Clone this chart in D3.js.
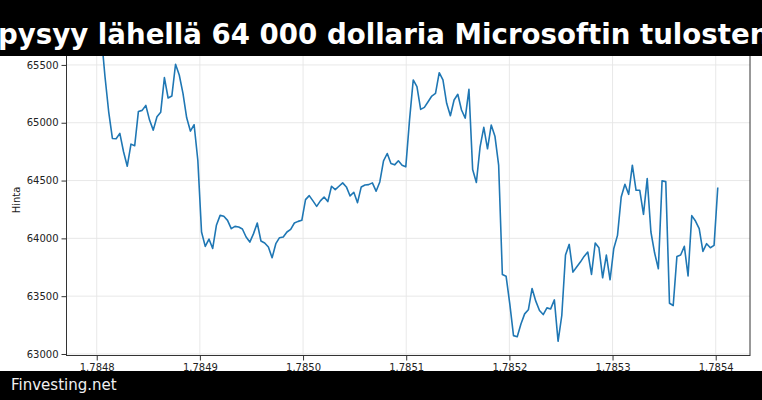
<!DOCTYPE html>
<html>
<head>
<meta charset="utf-8">
<script src="https://cdn.jsdelivr.net/npm/d3@7/dist/d3.min.js"></script>
<style>
  html, body { margin: 0; padding: 0; background: #fff; }
  svg { display: block; }
  text { font-family: "DejaVu Sans", sans-serif; }
</style>
</head>
<body>
<svg id="chart" width="762" height="400"></svg>
<script>
// ---- data (hourly timestamps, seconds) ----
const startTime = 1784800800;
const stepSeconds = 3600;
const prices = [
  65700, 65760, 65400, 65095, 64864, 64861, 64908, 64749, 64624, 64815,
  64801, 65098, 65107, 65150, 65023, 64936, 65052, 65090, 65390, 65214,
  65231, 65506, 65413, 65254, 65043, 64928, 64983, 64676, 64055, 63931,
  63994, 63913, 64113, 64199, 64191, 64156, 64084, 64104, 64098, 64081,
  64012, 63968, 64041, 64133, 63977, 63960, 63925, 63832, 63954, 64006,
  64012, 64055, 64078, 64133, 64147, 64156, 64335, 64370, 64324, 64277,
  64324, 64358, 64318, 64451, 64422, 64451, 64480, 64445, 64367, 64399,
  64309, 64445, 64462, 64465, 64480, 64408, 64488, 64671, 64734, 64647,
  64636, 64671, 64633, 64619, 65023, 65370, 65312, 65116, 65133, 65182,
  65231, 65254, 65433, 65370, 65168, 65061, 65197, 65246, 65110, 65040,
  65289, 64595, 64483, 64792, 64960, 64775, 64980, 64884, 64633, 63688,
  63673, 63434, 63159, 63150, 63260, 63347, 63382, 63567, 63457, 63376,
  63341, 63399, 63390, 63468, 63110, 63333, 63856, 63948, 63708, 63752,
  63795, 63844, 63882, 63688, 63960, 63919, 63659, 63856, 63642, 63913,
  64026, 64358, 64468, 64381, 64633, 64416, 64416, 64208, 64517, 64055,
  63873, 63737, 64497, 64491, 63439, 63419, 63844, 63856, 63931, 63676,
  64197, 64150, 64084, 63887, 63954, 63919, 63939, 64440
];
const xTicks = [1784800000, 1784900000, 1785000000, 1785100000, 1785200000, 1785300000, 1785400000];
const yTicks = [63000, 63500, 64000, 64500, 65000, 65500];
const titleText = "Bitcoin pysyy lähellä 64 000 dollaria Microsoftin tulosten jälkeen";
const titleHidden = "Bitcoin ";
const titleVisibleSpan = "pysyy lähellä 64 000 dollaria Microsoftin tuloste";
const yLabel = "Hinta";
const footerText = "Finvesting.net";

const data = prices.map((p, i) => ({ t: startTime + i * stepSeconds, v: p }));

// ---- layout ----
const W = 762, H = 400;
const plot = { left: 66.5, right: 750, top: 21, bottom: 355.5 };

const svg = d3.select("#chart");

const x = d3.scaleLinear()
  .domain([1784770700, 1785433240])
  .range([plot.left, plot.right]);
const y = d3.scaleLinear()
  .domain([62987, 65880])
  .range([plot.bottom, plot.top]);

svg.append("defs").append("clipPath").attr("id", "clip")
  .append("rect")
  .attr("x", plot.left).attr("y", plot.top)
  .attr("width", plot.right - plot.left).attr("height", plot.bottom - plot.top);

// grid
const grid = svg.append("g").attr("class", "grid");
grid.selectAll("line.h").data(yTicks).join("line")
  .attr("x1", plot.left).attr("x2", plot.right)
  .attr("y1", d => y(d)).attr("y2", d => y(d))
  .attr("stroke", "#e5e5e5").attr("stroke-width", 0.9);
grid.selectAll("line.v").data(xTicks).join("line")
  .attr("y1", plot.top).attr("y2", plot.bottom)
  .attr("x1", d => x(d)).attr("x2", d => x(d))
  .attr("stroke", "#e5e5e5").attr("stroke-width", 0.9);

// line
const line = d3.line().x(d => x(d.t)).y(d => y(d.v));
svg.append("path")
  .datum(data)
  .attr("clip-path", "url(#clip)")
  .attr("fill", "none")
  .attr("stroke", "#1f77b4")
  .attr("stroke-width", 1.6)
  .attr("stroke-linejoin", "round")
  .attr("d", line);

// spines
svg.append("rect")
  .attr("x", plot.left).attr("y", plot.top)
  .attr("width", plot.right - plot.left).attr("height", plot.bottom - plot.top)
  .attr("fill", "none").attr("stroke", "#333").attr("stroke-width", 1);

// axes
const yAxis = d3.axisLeft(y).tickValues(yTicks).tickSize(5).tickPadding(3)
  .tickFormat(d3.format("d"));
const gy = svg.append("g").attr("transform", `translate(${plot.left},0)`).call(yAxis);
gy.select(".domain").remove();
gy.selectAll("line").attr("stroke", "#333");
gy.selectAll("text").attr("font-family", "DejaVu Sans").attr("font-size", 10).attr("fill", "#222");

const xAxis = d3.axisBottom(x).tickValues(xTicks).tickSize(5).tickPadding(3)
  .tickFormat(d => d3.format(".4f")(d / 1e9));
const gx = svg.append("g").attr("transform", `translate(0,${plot.bottom})`).call(xAxis);
gx.select(".domain").remove();
gx.selectAll("line").attr("stroke", "#333");
gx.selectAll("text").attr("font-family", "DejaVu Sans").attr("font-size", 10).attr("fill", "#222");

// y label
svg.append("text")
  .attr("transform", `translate(20,200) rotate(-90)`)
  .attr("text-anchor", "middle")
  .attr("font-size", 10).attr("fill", "#222")
  .text(yLabel);

// title band
svg.append("rect").attr("x", 0).attr("y", 0).attr("width", W).attr("height", 56).attr("fill", "#000");
function measure(str, fs) {
  const t = svg.append("text").attr("font-size", fs).attr("font-weight", "bold")
    .style("white-space", "pre").text(str);
  const w = t.node().getComputedTextLength();
  t.remove();
  return w;
}
// size the title so the visible span matches the reference
const titleFs = 100 * 752 / measure(titleVisibleSpan, 100);
const hiddenW = measure(titleHidden, titleFs);
svg.append("text")
  .attr("x", -2 - hiddenW).attr("y", 44)
  .attr("font-size", titleFs).attr("font-weight", "bold")
  .attr("fill", "#fff")
  .text(titleText);

// footer band
svg.append("rect").attr("x", 0).attr("y", 371).attr("width", W).attr("height", H - 371).attr("fill", "#000");
svg.append("text")
  .attr("x", 11).attr("y", 390)
  .attr("font-size", 15).attr("fill", "#f0f0f0")
  .text(footerText);
</script>
</body>
</html>
